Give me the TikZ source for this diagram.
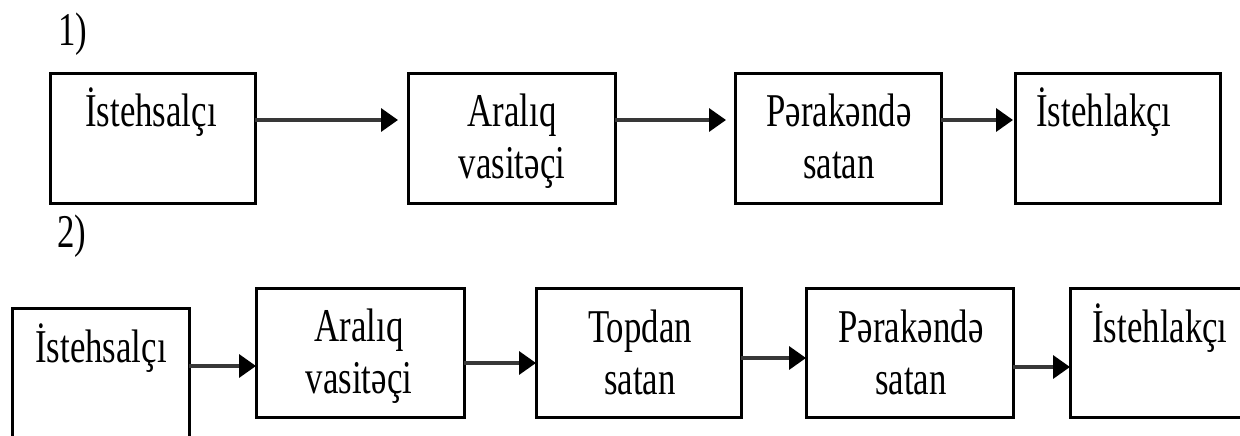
\documentclass[tikz,border=0pt]{standalone}
\usepackage{fontspec}
\setmainfont[FakeStretch=0.74]{Liberation Serif}
\usetikzlibrary{arrows.meta}
\tikzset{
  box/.style={draw=black, line width=3pt, inner sep=0pt, outer sep=0pt, rectangle},
  lbl/.style={anchor=base, inner sep=0pt, font=\fontsize{47}{52}\selectfont},
  num/.style={anchor=base west, inner sep=0pt, font=\fontsize{47}{52}\selectfont},
  flow/.style={line width=3.5pt, draw=black!78,
    -{Triangle[length=17pt,width=23pt,color=black]}},
}
\begin{document}
\begin{tikzpicture}[x=1pt,y=-1pt]
\clip (0,0) rectangle (1240,436);
\fill[white] (0,0) rectangle (1240,436);

% chain 1 (two-line labels are placed by the baseline of their last line)
\node[num] (n1) at (58,46) {1)};
\node[box, minimum width=205pt, minimum height=129pt] (b11) at (152.5,138.5) {};
\node[box, minimum width=207pt, minimum height=129pt] (b12) at (511.5,138.5) {};
\node[box, minimum width=206pt, minimum height=129pt] (b13) at (838,138.5) {};
\node[box, minimum width=205pt, minimum height=129pt] (b14) at (1117.5,138.5) {};

\node[lbl] (t11) at (151,126) {İstehsalçı};
\node[lbl, align=center] (t12) at (512,178) {Aralıq\\vasitəçi};
\node[lbl, align=center] (t13) at (839,178) {Pərakəndə\\satan};
\node[lbl] (t14) at (1104,126) {İstehlakçı};

\draw[flow, shorten >=10pt] (b11.east |- 0,120) -- (b12.west |- 0,120);
\draw[flow, shorten >=9pt] (b12.east |- 0,120) -- (b13.west |- 0,120);
\draw[flow, shorten >=2pt] (b13.east |- 0,120) -- (b14.west |- 0,120);

% chain 2
\node[num] (n2) at (57,247) {2)};
\node[box, minimum width=177pt, minimum height=150pt] (b21) at (100.5,383) {};
\node[box, minimum width=208pt, minimum height=129pt] (b22) at (360,352.5) {};
\node[box, minimum width=205pt, minimum height=129pt] (b23) at (638.5,352.5) {};
\node[box, minimum width=207pt, minimum height=129pt] (b24) at (909.5,352.5) {};
\node[box, minimum width=200pt, minimum height=129pt] (b25) at (1170,352.5) {};

\node[lbl] (t21) at (101,362) {İstehsalçı};
\node[lbl, align=center] (t22) at (359,393) {Aralıq\\vasitəçi};
\node[lbl, align=center] (t23) at (640,394) {Topdan\\satan};
\node[lbl, align=center] (t24) at (911,394) {Pərakəndə\\satan};
\node[lbl] (t25) at (1160,342) {İstehlakçı};

\draw[flow] (b21.east |- 0,366) -- (b22.west |- 0,366);
\draw[flow] (b22.east |- 0,363) -- (b23.west |- 0,363);
\draw[flow] (b23.east |- 0,358) -- (b24.west |- 0,358);
\draw[flow] (b24.east |- 0,367) -- (b25.west |- 0,367);
\end{tikzpicture}
\end{document}
